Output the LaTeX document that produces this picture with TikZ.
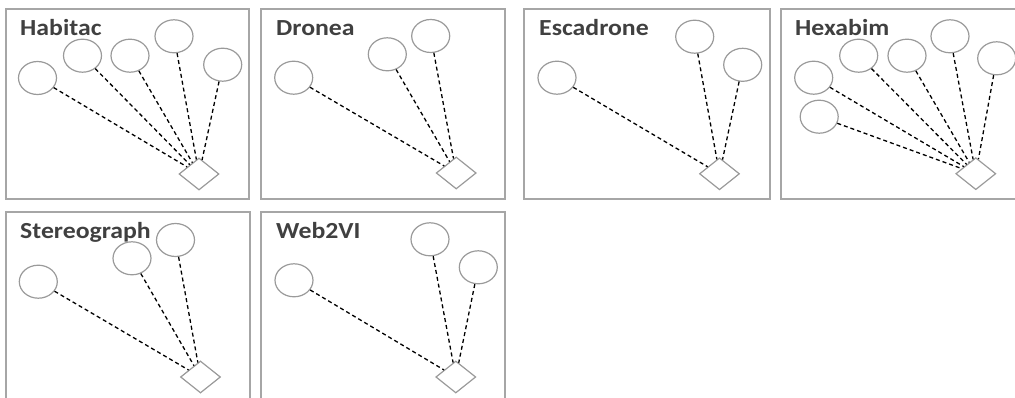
\documentclass[tikz,border=0pt]{standalone}
\usepackage{fontspec}
\setmainfont{Carlito}
\usetikzlibrary{shapes.geometric}
\definecolor{framegray}{HTML}{A6A6A6}
\definecolor{shapegray}{HTML}{9A9A9A}
\definecolor{titlegray}{HTML}{404040}
\newcommand{\ptitle}[1]{\scalebox{1.12}[1]{#1}}
\tikzset{
  panelbox/.style={draw=framegray, line width=1.5pt},
  oval/.style={ellipse, draw=shapegray, line width=1.2pt, minimum width=38pt, minimum height=33pt, inner sep=0pt},
  rhomb/.style={diamond, draw=shapegray, line width=1.2pt, minimum width=40pt, minimum height=32pt, inner sep=0pt},
  conn/.style={draw=black, line width=1.3pt, dash pattern=on 4pt off 3pt},
  paneltitle/.style={anchor=base west, inner sep=0pt, text=titlegray, font=\fontsize{23}{26}\selectfont\bfseries}
}
\begin{document}
\begin{tikzpicture}[x=1pt,y=-1pt]
\useasboundingbox (0,0) rectangle (1015,398);
\clip (0,0) rectangle (1015,398);
% frames
\draw[panelbox] (6,9) rectangle (249,199);
\draw[panelbox] (261,9) rectangle (505,199);
\draw[panelbox] (524,9) rectangle (770,199);
\draw[panelbox] (781,9) rectangle (1040,199);
\draw[panelbox] (6,212) rectangle (250,420);
\draw[panelbox] (261,212) rectangle (505,420);
% Habitac
\node[paneltitle] (t1) at (20,36) {\ptitle{Habitac}};
\node[oval] (h1) at (37.5,78) {};
\node[oval] (h2) at (82.5,55.7) {};
\node[oval] (h3) at (130,55.7) {};
\node[oval] (h4) at (174,36.3) {};
\node[oval] (h5) at (222.7,64.7) {};
\node[rhomb] (hd) at (199,174) {};
\foreach \e in {h1,h2,h3,h4,h5} \draw[conn] (\e) -- (hd);
% Dronea
\node[paneltitle] (t2) at (276,36) {\ptitle{Dronea}};
\node[oval] (d1) at (293.7,77.7) {};
\node[oval] (d2) at (387.3,54.3) {};
\node[oval] (d3) at (430.7,36) {};
\node[rhomb] (dd) at (456.2,173) {};
\foreach \e in {d1,d2,d3} \draw[conn] (\e) -- (dd);
% Escadrone
\node[paneltitle] (t3) at (539,36) {\ptitle{Escadrone}};
\node[oval] (s1) at (557,77.7) {};
\node[oval] (s2) at (694.7,36.7) {};
\node[oval] (s3) at (742.7,64.8) {};
\node[rhomb] (sd) at (719.5,173.8) {};
\foreach \e in {s1,s2,s3} \draw[conn] (\e) -- (sd);
% Hexabim
\node[paneltitle] (t4) at (795,36) {\ptitle{Hexabim}};
\node[oval] (x1) at (813.7,77.7) {};
\node[oval] (x2) at (819.2,116.7) {};
\node[oval] (x3) at (858.7,55.7) {};
\node[oval] (x4) at (907,55.7) {};
\node[oval] (x5) at (950,36.3) {};
\node[oval] (x6) at (996.7,58.3) {};
\node[rhomb] (xd) at (975.8,173.7) {};
\foreach \e in {x1,x2,x3,x4,x5,x6} \draw[conn] (\e) -- (xd);
% Stereograph
\node[paneltitle] (t5) at (20,238.5) {\ptitle{Stereograph}};
\node[oval] (g1) at (38.3,281.7) {};
\node[oval] (g2) at (132,258.3) {};
\node[oval] (g3) at (175.5,240) {};
\node[rhomb] (gd) at (200.5,377) {};
\foreach \e in {g1,g2,g3} \draw[conn] (\e) -- (gd);
% Web2VI
\node[paneltitle] (t6) at (276,238.5) {\ptitle{Web2VI}};
\node[oval] (w1) at (294,280.3) {};
\node[oval] (w2) at (430,239.3) {};
\node[oval] (w3) at (478.3,267.3) {};
\node[rhomb] (wd) at (455.8,377) {};
\foreach \e in {w1,w2,w3} \draw[conn] (\e) -- (wd);
\end{tikzpicture}
\end{document}
